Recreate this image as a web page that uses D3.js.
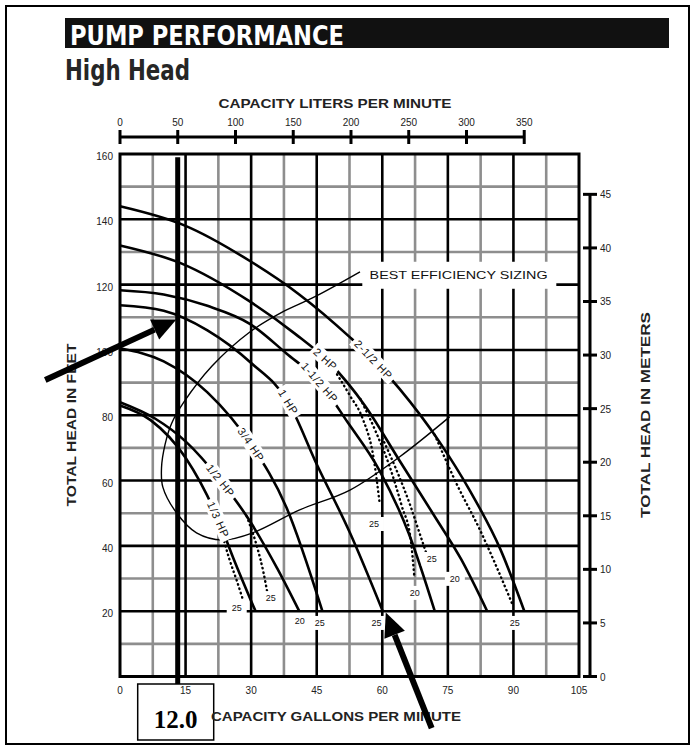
<!DOCTYPE html>
<html>
<head>
<meta charset="utf-8">
<script src="https://cdn.jsdelivr.net/npm/d3@7/dist/d3.min.js"></script>
<style>
body { margin: 0; background: #fff; }
svg { display: block; font-family: "Liberation Sans", Arial, sans-serif; }
</style>
</head>
<body>
<svg id="chart" width="694" height="749"></svg>
<script>
// axis ticks
var gpmTicks = [0, 15, 30, 45, 60, 75, 90, 105]
var literTicks = [0, 50, 100, 150, 200, 250, 300, 350]
var feetTicks = [20, 40, 60, 80, 100, 120, 140, 160]
var meterTicks = [0, 5, 10, 15, 20, 25, 30, 35, 40, 45]

// pump curves, [gpm, feet of head]
var curveNames = ["2-1/2 HP", "2 HP", "1-1/2 HP", "1 HP", "3/4 HP", "1/2 HP", "1/3 HP"]
var hp250 = [[0,144],[15,138],[30,127],[41,117],[52.5,104],[58,97],[64,88],[73,72],[80,57],[87,39],[92.5,20]]
var hp200 = [[0,132],[14,126.5],[29.5,115],[40,105],[48,96],[56,83],[64,66],[72,49],[78,36],[84,20]]
var hp150 = [[0,118.3],[10,117],[20,113.5],[29.7,108],[38,99],[45.7,90],[52,78],[59.4,63],[66,44],[72,20]]
var hp100 = [[0,113.7],[10,112],[20,106],[30,96],[38.5,84],[45,65],[52.6,44],[60.1,20]]
var hp075 = [[0,100.5],[10,96.5],[20,87],[30,71],[38,52],[46.3,20]]
var hp050 = [[0,84],[8,79],[15,72],[23,60],[30,47],[36,33],[41,20]]
var hp033 = [[0,83],[7,78.5],[15,67],[22.5,48],[26,36],[31,20]]
var curves = [hp250, hp200, hp150, hp100, hp075, hp050, hp033]
var labelGpm = [58, 47, 45.7, 38.5, 30, 23, 22.5]

// dotted branches
var dot033 = [[22.5,48],[25,36],[26.8,29],[28,24]]
var dot050 = [[29,49],[31.5,39],[32.8,32],[33.8,25]]
var dotA = [[48,96],[52.6,86],[55.5,79],[58,67],[59.4,53]]
var dotB = [[55,85],[58.5,75],[61.5,65],[64.5,52],[66.5,42],[67.3,31]]
var dotC = [[60,73],[63,64],[66.5,52],[68.5,44],[70,38]]
var dot250 = [[72,74],[77,59],[82.3,45],[86,34],[89.8,22]]
var dots = [dot033, dot050, dotA, dotB, dotC, dot250]

// small size tags near curve ends
var tagText = ["25", "25", "20", "25", "25", "25", "20", "25", "20", "25"]
var tagGpm = [26.7, 34.5, 41.1, 45.7, 58.7, 58.1, 67.4, 71.3, 76.6, 90.3]
var tagFeet = [21, 24, 17, 16.4, 16.4, 46.7, 25.6, 36, 29.9, 16.4]

// best efficiency sizing outline
var bestEff = [[75.4,79.5],[64,67.3],[52.6,57.1],[41.1,51],[30.4,44],[23.5,41.8],[17.5,44],[13,50],[9.8,58],[9.5,64],[10.3,71],[11.8,77.5],[14.6,84],[21,95],[29.7,105.5],[37,111.5],[44.6,116.3],[54.9,123.9]]

// hand annotations
var markerGpm = 13.2
var markerText = "12.0"
var arrowA = [[-17.1, 90.8], [12.9, 109.3]]
var arrowB = [[71.3, -15.8], [60.8, 19.6]]

var svg = d3.select("#chart")

var x = d3.scaleLinear().domain([0, 105]).range([120, 579])
var y = d3.scaleLinear().domain([0, 160]).range([676.5, 154])
var xL = d3.scaleLinear().domain([0, 105 * 3.785]).range([120, 579])
var yM = d3.scaleLinear().domain([0, 160 / 3.281]).range([676.5, 154])

// outer border
svg.append("rect").attr("x", 6).attr("y", 6).attr("width", 683).attr("height", 738)
    .attr("fill", "none").attr("stroke", "#000").attr("stroke-width", 2)

// title
svg.append("rect").attr("x", 65).attr("y", 18).attr("width", 604).attr("height", 30).attr("fill", "#111")
svg.append("text").attr("x", 70).attr("y", 45)
    .attr("font-family", "'Liberation Sans Narrow', 'DejaVu Sans Condensed', sans-serif")
    .attr("font-weight", "bold").attr("font-size", 27).attr("fill", "#fff")
    .attr("textLength", 274).attr("lengthAdjust", "spacingAndGlyphs")
    .text("PUMP PERFORMANCE")
svg.append("text").attr("x", 65).attr("y", 80)
    .attr("font-family", "'Liberation Sans Narrow', 'DejaVu Sans Condensed', sans-serif")
    .attr("font-weight", "bold").attr("font-size", 28).attr("fill", "#262626")
    .attr("textLength", 125).attr("lengthAdjust", "spacingAndGlyphs")
    .text("High Head")

// grid
var grid = svg.append("g")
function vlines(vals, color) {
    grid.append("g").selectAll("line").data(vals).enter().append("line")
        .attr("x1", d => x(d)).attr("x2", d => x(d))
        .attr("y1", y(0)).attr("y2", y(160))
        .attr("stroke", color).attr("stroke-width", 2.6)
}
function hlines(vals, color) {
    grid.append("g").selectAll("line").data(vals).enter().append("line")
        .attr("x1", x(0)).attr("x2", x(105))
        .attr("y1", d => y(d)).attr("y2", d => y(d))
        .attr("stroke", color).attr("stroke-width", 2.6)
}
vlines(d3.range(7.5, 105, 15), "#8e8e8e")
hlines(d3.range(10, 160, 20), "#8e8e8e")
vlines(gpmTicks.slice(1, -1), "#000")
hlines(feetTicks.slice(0, -1), "#000")
svg.append("rect").attr("x", x(0)).attr("y", y(160))
    .attr("width", x(105) - x(0)).attr("height", y(0) - y(160))
    .attr("fill", "none").attr("stroke", "#000").attr("stroke-width", 3)

// top axis, liters
var topAx = svg.append("g")
topAx.append("line").attr("x1", xL(0)).attr("x2", xL(350)).attr("y1", 137).attr("y2", 137)
    .attr("stroke", "#000").attr("stroke-width", 3)
topAx.selectAll(".tk").data(literTicks).enter().append("line")
    .attr("x1", d => xL(d)).attr("x2", d => xL(d)).attr("y1", 130).attr("y2", 144)
    .attr("stroke", "#000").attr("stroke-width", 3)
topAx.selectAll(".lb").data(literTicks).enter().append("text")
    .attr("x", d => xL(d)).attr("y", 126).attr("text-anchor", "middle")
    .attr("font-size", 10).attr("fill", "#222").text(d => d)
svg.append("text").attr("x", 335).attr("y", 108).attr("text-anchor", "middle")
    .attr("font-size", 13).attr("font-weight", "bold").attr("fill", "#222")
    .attr("textLength", 233).attr("lengthAdjust", "spacingAndGlyphs")
    .text("CAPACITY LITERS PER MINUTE")

// bottom axis, gallons
svg.append("g").selectAll("text").data(gpmTicks).enter().append("text")
    .attr("x", d => x(d)).attr("y", 694).attr("text-anchor", "middle")
    .attr("font-size", 10).attr("fill", "#222").text(d => d)

// left axis, feet
svg.append("g").selectAll("text").data(feetTicks).enter().append("text")
    .attr("x", 113).attr("y", d => y(d) + 6).attr("text-anchor", "end")
    .attr("font-size", 10).attr("fill", "#222").text(d => d)
svg.append("text").attr("transform", "translate(76,425) rotate(-90)").attr("text-anchor", "middle")
    .attr("font-size", 13).attr("font-weight", "bold").attr("fill", "#222")
    .attr("textLength", 163).attr("lengthAdjust", "spacingAndGlyphs")
    .text("TOTAL HEAD IN FEET")

// right axis, meters
var rightAx = svg.append("g")
rightAx.append("line").attr("x1", 590).attr("x2", 590).attr("y1", yM(0)).attr("y2", yM(45))
    .attr("stroke", "#000").attr("stroke-width", 3)
rightAx.selectAll(".tk").data(meterTicks).enter().append("line")
    .attr("x1", 583).attr("x2", 597).attr("y1", d => yM(d)).attr("y2", d => yM(d))
    .attr("stroke", "#000").attr("stroke-width", 3)
rightAx.selectAll(".lb").data(meterTicks).enter().append("text")
    .attr("x", 600).attr("y", d => yM(d) + 4).attr("font-size", 10).attr("fill", "#222").text(d => d)
svg.append("text").attr("transform", "translate(650,415) rotate(-90)").attr("text-anchor", "middle")
    .attr("font-size", 13).attr("font-weight", "bold").attr("fill", "#222")
    .attr("textLength", 206).attr("lengthAdjust", "spacingAndGlyphs")
    .text("TOTAL HEAD IN METERS")

// curves
var line = d3.line().x(d => x(d[0])).y(d => y(d[1])).curve(d3.curveMonotoneX)
svg.append("g").selectAll("path").data(curves).enter().append("path")
    .attr("d", line).attr("fill", "none").attr("stroke", "#000").attr("stroke-width", 2.6)
svg.append("g").selectAll("path").data(dots).enter().append("path")
    .attr("d", line).attr("fill", "none").attr("stroke", "#000").attr("stroke-width", 2.4)
    .attr("stroke-dasharray", "0.5,4").attr("stroke-linecap", "round")

var loop = d3.line().x(d => x(d[0])).y(d => y(d[1])).curve(d3.curveCatmullRom.alpha(0.5))
svg.append("path").attr("d", loop(bestEff)).attr("fill", "none")
    .attr("stroke", "#000").attr("stroke-width", 1.4)

// best efficiency label
var be = svg.append("g")
be.append("rect").attr("x", x(55.2) + 1).attr("y", y(127)).attr("width", 194).attr("height", 27).attr("fill", "#fff")
be.append("text").attr("x", x(57.1)).attr("y", y(121.7)).attr("font-size", 11).attr("fill", "#111")
    .attr("textLength", 178).attr("lengthAdjust", "spacingAndGlyphs")
    .text("BEST EFFICIENCY SIZING")

// curve labels along the lines
function interp(pts, g) {
    for (var i = 1; i < pts.length; i++) {
        if (g <= pts[i][0]) {
            var a = pts[i - 1], b = pts[i], t = (g - a[0]) / (b[0] - a[0])
            return a[1] + t * (b[1] - a[1])
        }
    }
    return pts[pts.length - 1][1]
}
curves.forEach(function (pts, i) {
    var g = labelGpm[i]
    var px = x(g), py = y(interp(pts, g))
    var dx = x(g + 1.5) - x(g - 1.5)
    var dy = y(interp(pts, g + 1.5)) - y(interp(pts, g - 1.5))
    var ang = Math.atan2(dy, dx) * 180 / Math.PI
    var grp = svg.append("g").attr("transform", "translate(" + px + "," + py + ") rotate(" + ang + ")")
    var bg = grp.append("rect").attr("fill", "#fff")
    var t = grp.append("text").attr("text-anchor", "middle").attr("dy", "0.36em")
        .attr("font-size", 11).attr("letter-spacing", 0.8).attr("fill", "#111").text(curveNames[i])
    var w = t.node().getComputedTextLength() + 6
    bg.attr("x", -w / 2).attr("y", -7).attr("width", w).attr("height", 14)
})

// size tags
tagText.forEach(function (s, i) {
    var grp = svg.append("g").attr("transform", "translate(" + x(tagGpm[i]) + "," + y(tagFeet[i]) + ")")
    grp.append("rect").attr("x", -10).attr("y", -7).attr("width", 20).attr("height", 14).attr("fill", "#fff")
    grp.append("text").attr("text-anchor", "middle").attr("dy", "0.35em")
        .attr("font-size", 9).attr("fill", "#111").text(s)
})

// annotations
svg.append("line").attr("x1", x(markerGpm)).attr("x2", x(markerGpm))
    .attr("y1", y(159)).attr("y2", 684).attr("stroke", "#000").attr("stroke-width", 5)
svg.append("rect").attr("x", x(markerGpm) - 40).attr("y", 684).attr("width", 76).attr("height", 56)
    .attr("fill", "#fff").attr("stroke", "#000").attr("stroke-width", 1.5)
svg.append("text").attr("x", x(markerGpm) - 2).attr("y", 728).attr("text-anchor", "middle")
    .attr("font-family", "'Liberation Serif', 'Times New Roman', serif")
    .attr("font-weight", "bold").attr("font-size", 25).attr("fill", "#000").text(markerText)
svg.append("text").attr("x", x(15)).attr("y", 694).attr("text-anchor", "middle")
    .attr("font-size", 10).attr("fill", "#222").text(15)
svg.append("text").attr("x", 336).attr("y", 721).attr("text-anchor", "middle")
    .attr("font-size", 13).attr("font-weight", "bold").attr("fill", "#222")
    .attr("textLength", 250).attr("lengthAdjust", "spacingAndGlyphs")
    .text("CAPACITY GALLONS PER MINUTE")

function arrow(a) {
    var x0 = x(a[0][0]), y0 = y(a[0][1]), x1 = x(a[1][0]), y1 = y(a[1][1])
    var ang = Math.atan2(y1 - y0, x1 - x0)
    var len = 24, half = 11
    var bx = x1 - len * Math.cos(ang), by = y1 - len * Math.sin(ang)
    svg.append("line").attr("x1", x0).attr("y1", y0).attr("x2", bx).attr("y2", by)
        .attr("stroke", "#000").attr("stroke-width", 6)
    var pts = [[x1, y1],
        [bx + half * Math.sin(ang), by - half * Math.cos(ang)],
        [bx - half * Math.sin(ang), by + half * Math.cos(ang)]]
    svg.append("polygon").attr("points", pts.map(p => p.join(",")).join(" ")).attr("fill", "#000")
}
arrow(arrowA)
arrow(arrowB)
</script>
</body>
</html>
